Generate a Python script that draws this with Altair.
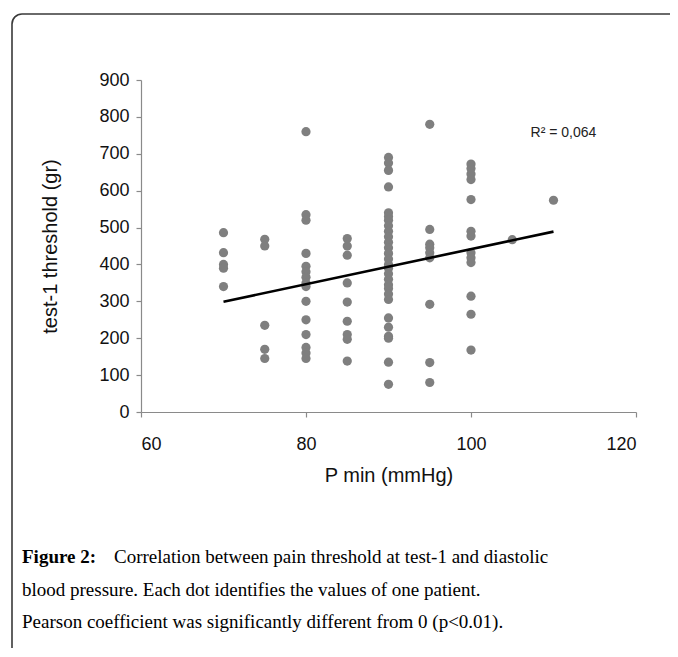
import altair as alt
import pandas as pd

# ---- data ----
bp_levels = [70, 75, 80, 85, 90, 95, 100, 105, 110]
thr_70 = [486, 432, 400, 390, 340]
thr_75 = [468, 450, 235, 170, 145]
thr_80 = [760, 535, 520, 430, 395, 380, 365, 350, 340, 300, 250, 210, 175, 160, 145]
thr_85 = [470, 450, 425, 350, 298, 246, 210, 197, 138]
thr_90 = [690, 675, 655, 610, 540, 530, 520, 505, 490, 475, 460, 445, 430, 415,
          400, 390, 375, 360, 345, 335, 320, 305, 255, 230, 205, 200, 135, 75]
thr_95 = [780, 495, 455, 445, 432, 418, 292, 134, 80]
thr_100 = [672, 660, 645, 630, 576, 490, 477, 432, 418, 405, 314, 265, 168]
thr_105 = [467]
thr_110 = [574]
groups = [thr_70, thr_75, thr_80, thr_85, thr_90, thr_95, thr_100, thr_105, thr_110]

fit_x = [70, 110]
fit_y = [299, 489]

r2_text = ["R\u00b2 = 0,064"]
r2_x = [111.2]
r2_y = [757]

x_ticks = [60, 80, 100, 120]
y_ticks = [0, 100, 200, 300, 400, 500, 600, 700, 800, 900]

caption_bold = "Figure 2:"
caption_l1 = "Correlation between pain threshold at test-1 and diastolic"
caption_l2 = "blood pressure. Each dot identifies the values of one patient."
caption_l3 = "Pearson coefficient was significantly different from 0 (p<0.01)."

rows = []
for bp, vals in zip(bp_levels, groups):
    for v in vals:
        rows.append({"pmin": bp, "thr": v})
df = pd.DataFrame(rows)
fit_df = pd.DataFrame({"pmin": fit_x, "thr": fit_y})
r2_df = pd.DataFrame({"pmin": r2_x, "thr": r2_y, "label": r2_text})
one = pd.DataFrame({"a": [0]})

x_scale = alt.Scale(domain=[60, 120], nice=False, zero=False)
y_scale = alt.Scale(domain=[0, 900], nice=False)

axis_common = dict(
    grid=False, domainColor="#8a8a8a", tickColor="#8a8a8a", tickSize=5,
    domainWidth=1.2, tickWidth=1.2, labelOverlap=False,
    labelFont="Liberation Sans", labelFontSize=18, labelColor="#111111",
    titleFont="Liberation Sans", titleFontSize=20, titleFontWeight="normal", titleColor="#111111",
)
x_enc = alt.X("pmin:Q", scale=x_scale,
              axis=alt.Axis(values=x_ticks, title="P min (mmHg)",
                            labelPadding=18, titlePadding=12, **axis_common))
y_enc = alt.Y("thr:Q", scale=y_scale,
              axis=alt.Axis(values=y_ticks, title="test-1 threshold (gr)",
                            labelPadding=7, titlePadding=38, **axis_common))

points = alt.Chart(df).mark_circle(size=85, color="#7f7f7f", opacity=1).encode(x=x_enc, y=y_enc)

fit = alt.Chart(fit_df).mark_line(color="#000000", strokeWidth=2.6).encode(x=x_enc, y=y_enc)

r2 = alt.Chart(r2_df).mark_text(font="Liberation Sans", fontSize=14, color="#222222").encode(
    x=x_enc, y=y_enc, text="label:N"
)

frame = alt.Chart(one).mark_rect(
    fillOpacity=0, stroke="#3a3a3a", strokeWidth=1.6, cornerRadius=10
).encode(x=alt.value(-129), x2=alt.value(760), y=alt.value(-66), y2=alt.value(800))

cap_font = "Liberation Serif"
cap_size = 19
cap_bold = alt.Chart(one).mark_text(
    font=cap_font, fontSize=cap_size, fontWeight="bold", align="left", baseline="middle", color="#000"
).encode(x=alt.value(-119), y=alt.value(477), text=alt.value(caption_bold))
cap1 = alt.Chart(one).mark_text(
    font=cap_font, fontSize=cap_size, align="left", baseline="middle", color="#000"
).encode(x=alt.value(-27), y=alt.value(477), text=alt.value(caption_l1))
cap2 = alt.Chart(one).mark_text(
    font=cap_font, fontSize=cap_size, align="left", baseline="middle", color="#000"
).encode(x=alt.value(-119), y=alt.value(510), text=alt.value(caption_l2))
cap3 = alt.Chart(one).mark_text(
    font=cap_font, fontSize=cap_size, align="left", baseline="middle", color="#000"
).encode(x=alt.value(-119), y=alt.value(542), text=alt.value(caption_l3))

chart = alt.layer(frame, points, fit, r2, cap_bold, cap1, cap2, cap3).properties(
    width=495, height=332,
    autosize=alt.AutoSizeParams(type="none"),
    padding={"left": 133, "top": 72, "right": 34, "bottom": 236},
).configure_view(stroke=None)

chart.save("out.html", embed_options={"renderer": "svg", "actions": False})
